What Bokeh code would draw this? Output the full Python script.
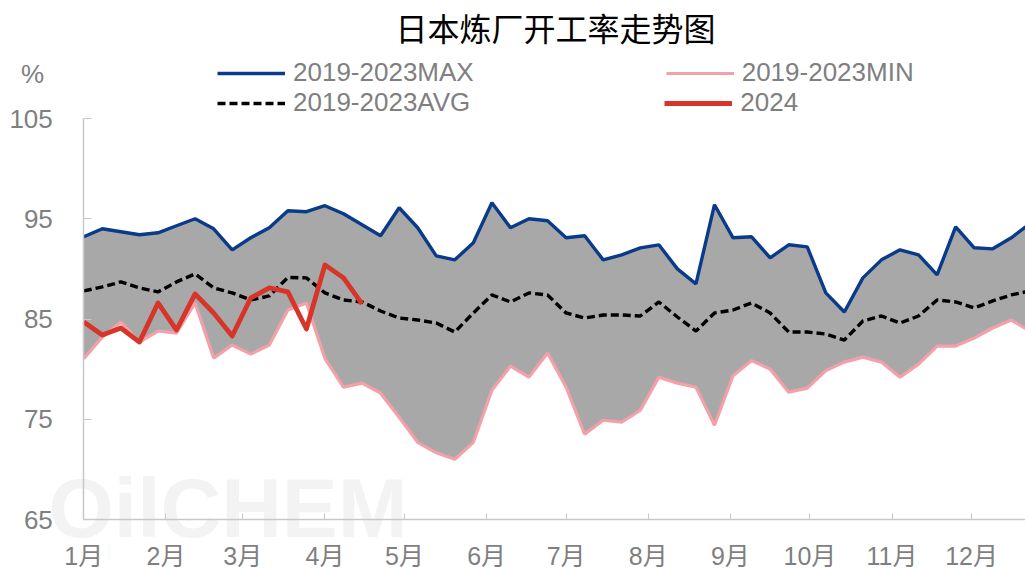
from bokeh.plotting import figure
from bokeh.models import Range1d, FixedTicker, Legend, LegendItem, Label
from bokeh.embed import file_html
from bokeh.resources import INLINE

# ---- data ----
month_labels = ["1月", "2月", "3月", "4月", "5月", "6月", "7月", "8月", "9月", "10月", "11月", "12月"]
month_start_days = [0, 31, 60, 91, 121, 152, 182, 213, 244, 274, 305, 335]   # 2024 calendar
week_days = [7 * i for i in range(52)]                                      # weekly observations
max_vals = [93.2, 94.0, 93.7, 93.4, 93.6, 94.3, 95.0, 94.0, 91.9, 93.1,
            94.1, 95.8, 95.7, 96.3, 95.5, 94.4, 93.3, 96.1, 94.1, 91.3,
            90.9, 92.6, 96.6, 94.1, 95.0, 94.8, 93.1, 93.3, 90.9, 91.4,
            92.1, 92.4, 90.0, 88.5, 96.4, 93.1, 93.2, 91.1, 92.4, 92.2,
            87.6, 85.7, 89.1, 90.9, 91.9, 91.4, 89.4, 94.2, 92.1, 92.0,
            93.1, 94.5]
min_vals = [81.05, 83.2, 84.7, 82.7, 83.8, 83.6, 86.6, 81.1, 82.4, 81.5,
            82.4, 85.9, 86.6, 81.05, 78.2, 78.6, 77.6, 75.2, 72.7, 71.65,
            71.0, 72.7, 77.9, 80.3, 79.2, 81.6, 78.2, 73.5, 74.9, 74.7,
            75.9, 79.2, 78.6, 78.2, 74.4, 79.35, 80.85, 80.0, 77.7, 78.1,
            79.85, 80.7, 81.2, 80.7, 79.2, 80.5, 82.3, 82.3, 83.1, 84.1,
            84.9, 83.8]
avg_vals = [87.8, 88.2, 88.7, 88.1, 87.7, 88.7, 89.5, 88.1, 87.6, 86.9,
            87.3, 89.15, 89.1, 87.6, 86.9, 86.7, 85.8, 85.1, 84.9, 84.6,
            83.7, 85.6, 87.4, 86.7, 87.6, 87.4, 85.6, 85.1, 85.4, 85.4,
            85.3, 86.7, 85.2, 83.8, 85.6, 85.9, 86.6, 85.6, 83.7, 83.7,
            83.5, 82.9, 84.8, 85.3, 84.6, 85.3, 86.9, 86.7, 86.1, 86.8,
            87.4, 87.8]
vals_2024 = [84.7, 83.4, 84.1, 82.7, 86.6, 83.9, 87.5, 85.6, 83.3, 87.1,
             88.1, 87.7, 84.0, 90.4, 89.1, 86.5]
days_2024 = week_days[:len(vals_2024)]
y_ticks = [65, 75, 85, 95, 105]

FONT = "Liberation Sans, Noto Sans CJK SC"
GRAY_TXT = "#7f7f7f"
AXIS_GRAY = "#c8c8c8"

# frame covers the whole canvas; axes are pinned inside it
PX_PER_DAY = 2.65
X0 = 83.3             # pixel of day 0
PX_PER_UNIT = 10.025
Y65 = 519.0           # pixel of 65
W, H = 1025, 569
x_start = -X0 / PX_PER_DAY
x_end = (W - X0) / PX_PER_DAY
y_start = 65 - (H - Y65) / PX_PER_UNIT
y_end = 65 + Y65 / PX_PER_UNIT

p = figure(width=W, height=H, output_backend="svg", toolbar_location=None,
           x_range=Range1d(x_start, x_end), y_range=Range1d(y_start, y_end),
           min_border=0, min_border_left=0, min_border_right=0,
           min_border_top=0, min_border_bottom=0)
p.outline_line_color = None
p.xgrid.visible = False
p.ygrid.visible = False

# watermark (under everything)
p.add_layout(Label(x=48, y=62, x_units="screen", y_units="screen",
                   text="OilCHEM", text_align="left", text_baseline="middle",
                   text_font="Liberation Sans", text_font_size="84px", text_font_style="bold",
                   text_color="#f3f3f3", level="underlay"))

# band and lines
p.varea(x=week_days, y1=min_vals, y2=max_vals, fill_color="#a8a8a8")
r_min = p.line(week_days, min_vals, line_color="#f4a0a9", line_width=3.2)
r_max = p.line(week_days, max_vals, line_color="#0a3a8a", line_width=3.4)
r_avg = p.line(week_days, avg_vals, line_color="#000000", line_width=3.4, line_dash="8 4")
r_24 = p.line(days_2024, vals_2024, line_color="#d7352a", line_width=4.8, line_join="round")

# axes
p.yaxis.fixed_location = 0
p.yaxis.bounds = (65, 105)
p.yaxis.ticker = FixedTicker(ticks=y_ticks)
p.yaxis.major_label_text_font = FONT
p.yaxis.major_label_text_font_size = "26px"
p.yaxis.major_label_text_color = GRAY_TXT
p.yaxis.major_label_standoff = 31
p.yaxis.axis_line_color = AXIS_GRAY
p.yaxis.axis_line_width = 1.5
p.yaxis.major_tick_line_color = AXIS_GRAY
p.yaxis.major_tick_in = 8
p.yaxis.major_tick_out = 0
p.yaxis.minor_tick_line_color = None

p.xaxis.fixed_location = 65
p.xaxis.bounds = (0, x_end)
p.xaxis.ticker = FixedTicker(ticks=month_start_days)
p.xaxis.major_label_overrides = {d: lab for d, lab in zip(month_start_days, month_labels)}
p.xaxis.major_label_text_font = FONT
p.xaxis.major_label_text_font_size = "25px"
p.xaxis.major_label_text_color = GRAY_TXT
p.xaxis.major_label_standoff = 22
p.xaxis.axis_line_color = AXIS_GRAY
p.xaxis.axis_line_width = 1.5
p.xaxis.major_tick_line_color = AXIS_GRAY
p.xaxis.major_tick_in = 6
p.xaxis.major_tick_out = 0
p.xaxis.minor_tick_line_color = None

# legends (two rows)
def make_legend(items, loc, spacing):
    lg = Legend(items=items, orientation="horizontal", location=loc,
                spacing=spacing, padding=0, margin=0,
                background_fill_alpha=0, border_line_alpha=0,
                label_text_font=FONT, label_text_font_size="26px",
                label_text_color=GRAY_TXT, glyph_width=68, glyph_height=26,
                label_height=26, label_standoff=8)
    p.add_layout(lg)
    return lg

make_legend([LegendItem(label="2019-2023MAX", renderers=[r_max]),
             LegendItem(label="2019-2023MIN", renderers=[r_min])], (217, 481), 192)
make_legend([LegendItem(label="2019-2023AVG", renderers=[r_avg]),
             LegendItem(label="2024", renderers=[r_24])], (217, 451), 194)

# title and unit
p.add_layout(Label(x=555, y=543, x_units="screen", y_units="screen",
                   text="日本炼厂开工率走势图", text_align="center", text_baseline="middle",
                   text_font="Noto Sans CJK SC", text_font_size="32px", text_color="#000000"))
p.add_layout(Label(x=32, y=496, x_units="screen", y_units="screen",
                   text="%", text_align="center", text_baseline="middle",
                   text_font=FONT, text_font_size="26px", text_color=GRAY_TXT))

open("out.html", "w").write(file_html(p, INLINE))
